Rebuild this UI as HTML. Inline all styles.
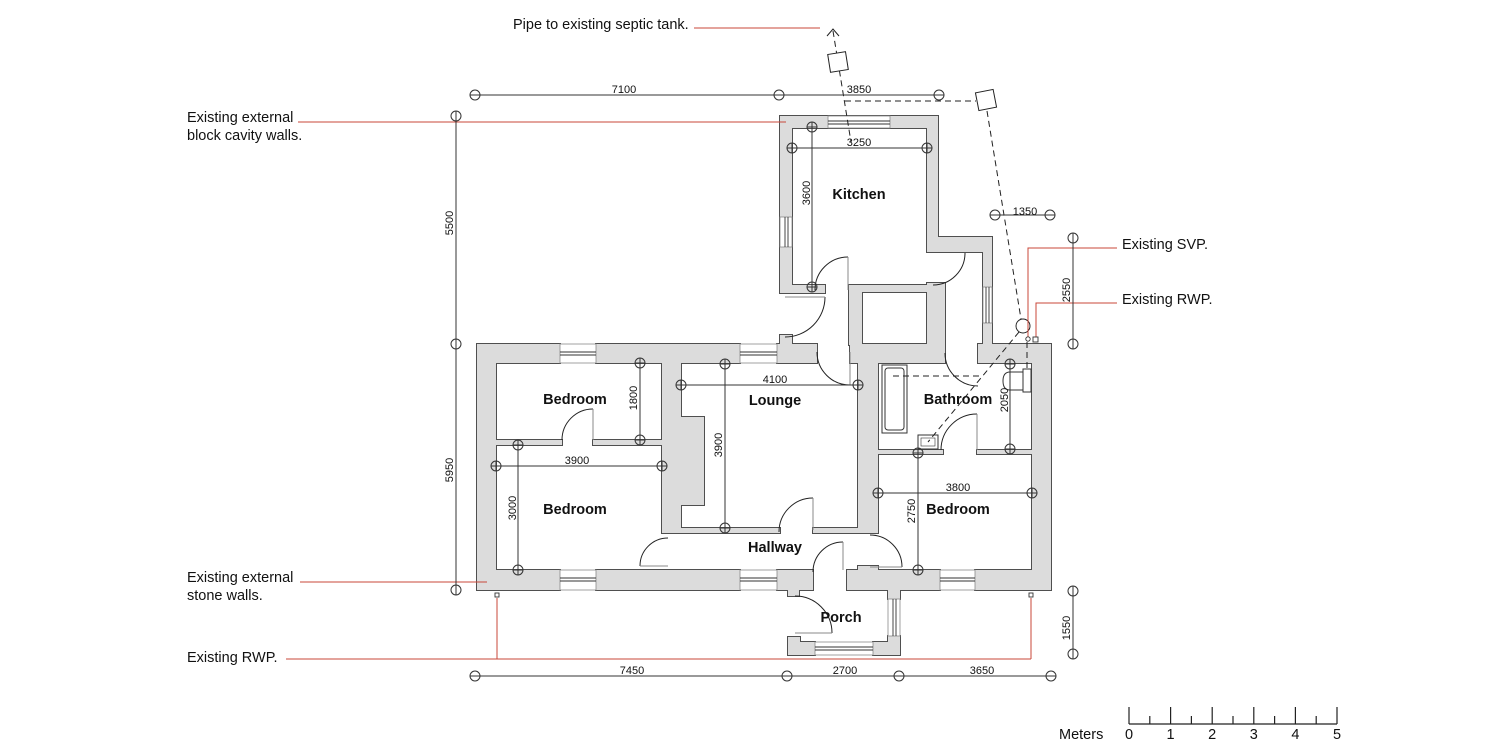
<!DOCTYPE html>
<html><head><meta charset="utf-8"><style>
html,body{margin:0;padding:0;background:#fff;}
svg{display:block;}
text{font-family:"Liberation Sans",Arial,sans-serif;fill:#111;}
.lb{font-size:14.5px;}
.rm{font-size:14.5px;font-weight:bold;}
.dm{font-size:11px;}
</style></head><body>
<svg width="1500" height="750" viewBox="0 0 1500 750" xmlns="http://www.w3.org/2000/svg">
<defs>
<g id="walls">
<!-- main building -->
<rect x="477" y="344" width="19" height="246"/>
<rect x="1032" y="344" width="19" height="246"/>
<rect x="477" y="344" width="83" height="19"/>
<rect x="596" y="344" width="144" height="19"/>
<rect x="777" y="344" width="40" height="19"/>
<rect x="780" y="335" width="12" height="10"/>
<rect x="850" y="344" width="95" height="19"/>
<rect x="978" y="344" width="73" height="19"/>
<rect x="477" y="570" width="83" height="20"/>
<rect x="596" y="570" width="144" height="20"/>
<rect x="777" y="570" width="36" height="20"/>
<rect x="788" y="589" width="11" height="7"/>
<rect x="847" y="570" width="93" height="20"/>
<rect x="975" y="570" width="76" height="20"/>
<rect x="858" y="566" width="20" height="5"/>
<!-- internal -->
<rect x="496" y="440" width="66" height="5"/>
<rect x="593" y="440" width="69" height="5"/>
<rect x="662" y="363" width="19" height="170"/>
<rect x="680" y="417" width="24" height="88"/>
<rect x="681" y="528" width="99" height="5"/>
<rect x="813" y="528" width="45" height="5"/>
<rect x="858" y="363" width="20" height="170"/>
<rect x="878" y="450" width="65" height="4"/>
<rect x="977" y="450" width="55" height="4"/>
<!-- kitchen extension -->
<rect x="780" y="116" width="12" height="177"/>
<rect x="780" y="116" width="158" height="12"/>
<rect x="927" y="116" width="11" height="136"/>
<rect x="927" y="237" width="65" height="15"/>
<rect x="983" y="237" width="9" height="107"/>
<rect x="780" y="285" width="45" height="8"/>
<rect x="849" y="285" width="13" height="60"/>
<rect x="849" y="285" width="96" height="7"/>
<rect x="927" y="283" width="18" height="62"/>
<!-- porch -->
<rect x="888" y="589" width="12" height="10"/>
<rect x="873" y="642" width="27" height="13"/>
<rect x="888" y="636" width="12" height="7"/>
<rect x="788" y="642" width="27" height="13"/>
<rect x="788" y="637" width="12" height="6"/>
</g>
</defs>
<use href="#walls" fill="#dcdcdc" stroke="#4f4f4f" stroke-width="2"/>
<use href="#walls" fill="#dcdcdc" stroke="none"/>

<!-- windows -->
<g fill="#fff" stroke="#8a8a8a" stroke-width="0.8">
<rect x="560" y="344" width="36" height="19"/>
<rect x="740" y="344" width="37" height="19"/>
<rect x="560" y="570" width="36" height="20"/>
<rect x="740" y="570" width="37" height="20"/>
<rect x="940" y="570" width="35" height="20"/>
<rect x="828" y="116" width="62" height="12"/>
<rect x="780" y="217" width="12" height="30"/>
<rect x="983" y="287" width="9" height="36"/>
<rect x="888" y="599" width="12" height="37"/>
<rect x="815" y="642" width="58" height="13"/>
</g>
<g stroke="#333" stroke-width="0.9">
<line x1="560" y1="352" x2="596" y2="352"/><line x1="560" y1="355" x2="596" y2="355"/>
<line x1="740" y1="352" x2="777" y2="352"/><line x1="740" y1="355" x2="777" y2="355"/>
<line x1="560" y1="578" x2="596" y2="578"/><line x1="560" y1="581" x2="596" y2="581"/>
<line x1="740" y1="578" x2="777" y2="578"/><line x1="740" y1="581" x2="777" y2="581"/>
<line x1="940" y1="578" x2="975" y2="578"/><line x1="940" y1="581" x2="975" y2="581"/>
<line x1="828" y1="121" x2="890" y2="121"/><line x1="828" y1="124" x2="890" y2="124"/>
<line x1="785" y1="217" x2="785" y2="247"/><line x1="788" y1="217" x2="788" y2="247"/>
<line x1="986" y1="287" x2="986" y2="323"/><line x1="989" y1="287" x2="989" y2="323"/>
<line x1="893" y1="599" x2="893" y2="636"/><line x1="896" y1="599" x2="896" y2="636"/>
<line x1="815" y1="647" x2="873" y2="647"/><line x1="815" y1="650" x2="873" y2="650"/>
</g>

<!-- doors -->
<g fill="none" stroke="#222" stroke-width="1">
<path d="M593,409 A31,31 0 0 0 562,440"/><line x1="593" y1="409" x2="593" y2="440" stroke="#888"/>
<path d="M640,566 A28,28 0 0 1 668,538"/><line x1="640" y1="566" x2="668" y2="566" stroke="#888"/>
<path d="M813,498 A34,34 0 0 0 779,532"/><line x1="813" y1="498" x2="813" y2="530" stroke="#888"/>
<path d="M817,352 A33,33 0 0 0 850,385"/><line x1="850" y1="352" x2="850" y2="385" stroke="#888"/>
<path d="M848,257 A33,33 0 0 0 815,290"/><line x1="848" y1="257" x2="848" y2="290" stroke="#888"/>
<path d="M825,297 A40,40 0 0 1 785,337"/><line x1="785" y1="297" x2="825" y2="297" stroke="#888"/>
<path d="M965,253 A32,32 0 0 1 933,285"/>
<path d="M945,353 A33,33 0 0 0 978,386"/>
<path d="M977,414 A36,36 0 0 0 941,450"/><line x1="977" y1="414" x2="977" y2="450" stroke="#888"/>
<path d="M870,535 A32,32 0 0 1 902,567"/><line x1="870" y1="567" x2="902" y2="567" stroke="#888"/>
<path d="M813,572 A30,30 0 0 1 843,542"/><line x1="843" y1="542" x2="843" y2="570" stroke="#888"/>
<path d="M795,596 A37,37 0 0 1 832,633"/><line x1="795" y1="633" x2="832" y2="633" stroke="#888"/>
</g>

<!-- sanitary -->
<g fill="#fff" stroke="#333" stroke-width="1">
<rect x="882" y="365" width="25" height="68"/>
<rect x="885" y="368" width="19" height="62" rx="3"/>
<rect x="918" y="435" width="20" height="14"/>
<rect x="921" y="438" width="14" height="8" stroke-width="0.6"/>
<path d="M1023,372 L1010,372 Q1003,372 1003,381 Q1003,390 1010,390 L1023,390"/>
<rect x="1023" y="369" width="8" height="23"/>
</g>

<!-- drainage dashed -->
<g fill="none" stroke="#222" stroke-width="1" stroke-dasharray="6,4">
<line x1="833" y1="31" x2="851" y2="142"/>
<line x1="845" y1="101" x2="976" y2="101"/>
<line x1="987" y1="111" x2="1021" y2="319"/>
<line x1="1019" y1="332" x2="928" y2="442"/>
<line x1="893" y1="376" x2="982" y2="376"/>
<line x1="1027" y1="342" x2="1027" y2="371"/>
</g>
<polyline points="827,36 833,29 839,36" fill="none" stroke="#222" stroke-width="1"/>
<rect x="829" y="53" width="18" height="18" fill="#fff" stroke="#222" stroke-width="1" transform="rotate(-9 838 62)"/>
<rect x="977" y="91" width="18" height="18" fill="#fff" stroke="#222" stroke-width="1" transform="rotate(-11 986 100)"/>
<circle cx="1023" cy="326" r="7" fill="#fff" stroke="#222" stroke-width="1"/>

<!-- red leaders -->
<g fill="none" stroke="#c9473a" stroke-width="1">
<line x1="694" y1="28" x2="820" y2="28"/>
<line x1="298" y1="122" x2="786" y2="122"/>
<line x1="300" y1="582" x2="487" y2="582"/>
<line x1="286" y1="659" x2="1031" y2="659"/>
<line x1="497" y1="598" x2="497" y2="659"/>
<line x1="1031" y1="598" x2="1031" y2="659"/>
<polyline points="1028,337 1028,248 1117,248"/>
<polyline points="1036,337 1036,303 1117,303"/>
</g>
<g fill="#fff" stroke="#333" stroke-width="0.9">
<rect x="495" y="593" width="4" height="4"/>
<rect x="1029" y="593" width="4" height="4"/>
<rect x="1033" y="337" width="5" height="5"/>
<circle cx="1028" cy="339" r="2.2"/>
</g>

<!-- dimension lines -->
<g stroke="#333" stroke-width="1" fill="none">
<line x1="470" y1="95" x2="944" y2="95"/>
<line x1="456" y1="111" x2="456" y2="595"/>
<line x1="470" y1="676" x2="1056" y2="676"/>
<line x1="990" y1="215" x2="1055" y2="215"/>
<line x1="1073" y1="233" x2="1073" y2="349"/>
<line x1="1073" y1="586" x2="1073" y2="659"/>
<line x1="792" y1="148" x2="927" y2="148"/>
<line x1="812" y1="127" x2="812" y2="287"/>
<line x1="640" y1="363" x2="640" y2="440"/>
<line x1="496" y1="466" x2="662" y2="466"/>
<line x1="518" y1="445" x2="518" y2="570"/>
<line x1="681" y1="385" x2="858" y2="385"/>
<line x1="725" y1="364" x2="725" y2="528"/>
<line x1="1010" y1="364" x2="1010" y2="449"/>
<line x1="878" y1="493" x2="1032" y2="493"/>
<line x1="918" y1="453" x2="918" y2="570"/>
</g>
<g stroke="#333" stroke-width="1" fill="none">
<circle cx="475" cy="95" r="5"/><circle cx="779" cy="95" r="5"/><circle cx="939" cy="95" r="5"/>
<circle cx="456" cy="116" r="5"/><circle cx="456" cy="344" r="5"/><circle cx="456" cy="590" r="5"/>
<circle cx="475" cy="676" r="5"/><circle cx="787" cy="676" r="5"/><circle cx="899" cy="676" r="5"/><circle cx="1051" cy="676" r="5"/>
<circle cx="995" cy="215" r="5"/><circle cx="1050" cy="215" r="5"/>
<circle cx="1073" cy="238" r="5"/><circle cx="1073" cy="344" r="5"/>
<circle cx="1073" cy="591" r="5"/><circle cx="1073" cy="654" r="5"/>
</g>
<g stroke="#333" stroke-width="1" fill="none">
<circle cx="792" cy="148" r="5"/><circle cx="927" cy="148" r="5"/>
<circle cx="812" cy="127" r="5"/><circle cx="812" cy="287" r="5"/>
<circle cx="640" cy="363" r="5"/><circle cx="640" cy="440" r="5"/>
<circle cx="496" cy="466" r="5"/><circle cx="662" cy="466" r="5"/>
<circle cx="518" cy="445" r="5"/><circle cx="518" cy="570" r="5"/>
<circle cx="681" cy="385" r="5"/><circle cx="858" cy="385" r="5"/>
<circle cx="725" cy="364" r="5"/><circle cx="725" cy="528" r="5"/>
<circle cx="1010" cy="364" r="5"/><circle cx="1010" cy="449" r="5"/>
<circle cx="878" cy="493" r="5"/><circle cx="1032" cy="493" r="5"/>
<circle cx="918" cy="453" r="5"/><circle cx="918" cy="570" r="5"/>
<path d="M792,143v10M927,143v10M807,127h10M807,287h10M635,363h10M635,440h10M496,461v10M662,461v10M513,445h10M513,570h10M681,380v10M858,380v10M720,364h10M720,528h10M1005,364h10M1005,449h10M878,488v10M1032,488v10M913,453h10M913,570h10M812,122v10M812,282v10M640,358v10M640,435v10M518,440v10M518,565v10M725,359v10M725,523v10M1010,359v10M1010,444v10M918,448v10M918,565v10M787,148h10M922,148h10M491,466h10M657,466h10M676,385h10M853,385h10M873,493h10M1027,493h10"/>
</g>

<!-- dimension text -->
<g class="dm" text-anchor="middle">
<text x="624" y="93">7100</text>
<text x="859" y="93">3850</text>
<text x="859" y="146">3250</text>
<text x="1025" y="215">1350</text>
<text x="775" y="383">4100</text>
<text x="577" y="464">3900</text>
<text x="958" y="491">3800</text>
<text x="632" y="674">7450</text>
<text x="845" y="674">2700</text>
<text x="982" y="674">3650</text>
<text transform="translate(453,223) rotate(-90)">5500</text>
<text transform="translate(453,470) rotate(-90)">5950</text>
<text transform="translate(810,193) rotate(-90)">3600</text>
<text transform="translate(637,398) rotate(-90)">1800</text>
<text transform="translate(722,445) rotate(-90)">3900</text>
<text transform="translate(516,508) rotate(-90)">3000</text>
<text transform="translate(1008,400) rotate(-90)">2050</text>
<text transform="translate(915,511) rotate(-90)">2750</text>
<text transform="translate(1070,290) rotate(-90)">2550</text>
<text transform="translate(1070,628) rotate(-90)">1550</text>
</g>

<!-- room labels -->
<g class="rm" text-anchor="middle">
<text x="859" y="199">Kitchen</text>
<text x="575" y="404">Bedroom</text>
<text x="775" y="405">Lounge</text>
<text x="958" y="404">Bathroom</text>
<text x="575" y="514">Bedroom</text>
<text x="775" y="552">Hallway</text>
<text x="958" y="514">Bedroom</text>
<text x="841" y="622">Porch</text>
</g>

<!-- annotations -->
<g class="lb">
<text x="513" y="29">Pipe to existing septic tank.</text>
<text x="187" y="122">Existing external</text>
<text x="187" y="140">block cavity walls.</text>
<text x="187" y="582">Existing external</text>
<text x="187" y="600">stone walls.</text>
<text x="187" y="662">Existing RWP.</text>
<text x="1122" y="249">Existing SVP.</text>
<text x="1122" y="304">Existing RWP.</text>
<text x="1059" y="739">Meters</text>
</g>

<!-- scale bar -->
<g stroke="#222" stroke-width="1.2" fill="none">
<line x1="1129" y1="724" x2="1337" y2="724"/>
<path d="M1129,707V724M1170.6,707V724M1212.2,707V724M1253.8,707V724M1295.4,707V724M1337,707V724"/>
<path d="M1149.8,716V724M1191.4,716V724M1233,716V724M1274.6,716V724M1316.2,716V724"/>
</g>
<g class="lb" text-anchor="middle">
<text x="1129" y="739">0</text>
<text x="1170.6" y="739">1</text>
<text x="1212.2" y="739">2</text>
<text x="1253.8" y="739">3</text>
<text x="1295.4" y="739">4</text>
<text x="1337" y="739">5</text>
</g>
</svg>
</body></html>
